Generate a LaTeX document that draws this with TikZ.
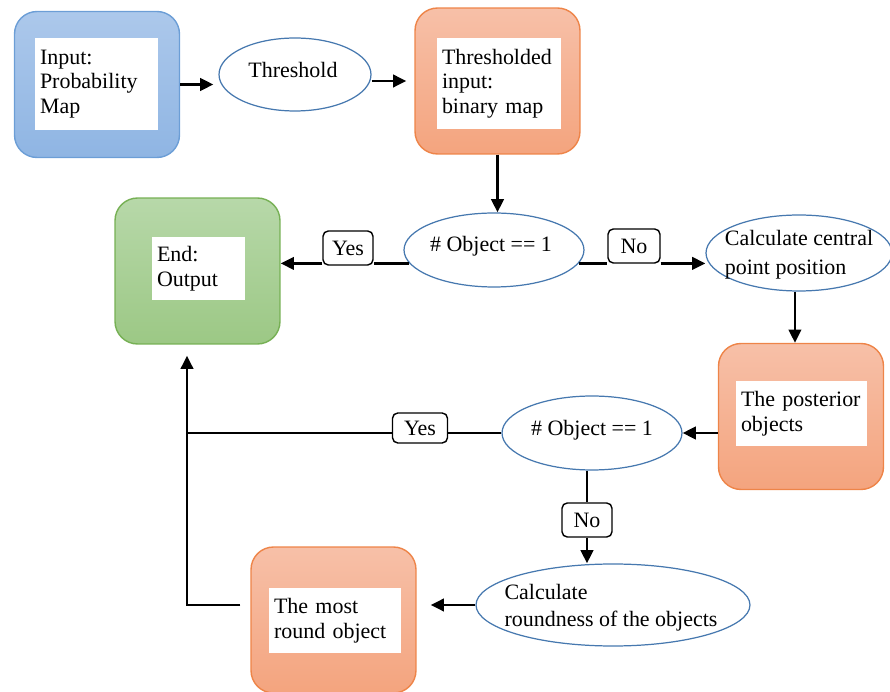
\documentclass[tikz,border=0pt]{standalone}
\usepackage{fontspec}
\setmainfont{Liberation Serif}
\usepackage{xcolor}
\definecolor{blueTop}{RGB}{172,200,235}
\definecolor{blueBot}{RGB}{143,181,227}
\definecolor{blueLine}{RGB}{108,158,214}
\definecolor{orangeTop}{RGB}{247,192,168}
\definecolor{orangeBot}{RGB}{244,164,126}
\definecolor{orangeLine}{RGB}{238,132,72}
\definecolor{greenTop}{RGB}{183,216,169}
\definecolor{greenBot}{RGB}{156,200,133}
\definecolor{greenLine}{RGB}{118,176,84}
\definecolor{ellLine}{RGB}{70,120,175}
\usepackage{tikz}
\usetikzlibrary{arrows.meta, positioning, shapes.geometric}

\begin{document}
\begin{tikzpicture}[
	x=0.02cm, y=-0.02cm,
	font=\fontsize{12.5}{14}\selectfont,
	>={Triangle[length=7.5pt, width=7pt]},
	flow/.style={line width=1.6pt},
	block/.style={rectangle, rounded corners=0.45cm, line width=0.8pt, minimum width=3.3cm, minimum height=2.92cm},
	blueblock/.style={block, draw=blueLine, top color=blueTop, bottom color=blueBot},
	orangeblock/.style={block, draw=orangeLine, top color=orangeTop, bottom color=orangeBot},
	greenblock/.style={block, draw=greenLine, top color=greenTop, bottom color=greenBot},
	textarea/.style={rectangle, fill=white, inner xsep=0.1cm, inner ysep=0pt, align=left},
	decision/.style={ellipse, draw=ellLine, line width=0.7pt, fill=white, inner sep=0pt},
	wordtext/.style={align=left, inner sep=0pt, font=\fontsize{12.5}{15.5}\selectfont},
	answer/.style={rectangle, draw, fill=white, rounded corners=3pt, line width=0.8pt, minimum width=1cm, minimum height=0.68cm, inner sep=0pt}
]

\def \xw{890}
\def \xh{692}
\useasboundingbox (0,0) rectangle (\xw,\xh);

% top row
\node[blueblock] (input) at (97, 84.5) {};
\node[textarea, text width=2.26cm, minimum height=1.84cm] (inputtxt) at (96.5, 84) {Input:\\Probability\\Map};
\node[decision, minimum width=3.04cm, minimum height=1.46cm] (thresh) at (295, 74.5) {};
\node[wordtext] (threshtxt) at (293, 70) {Threshold};
\node[orangeblock] (thr) at (497.5, 81) {};
\node[textarea, text width=2.28cm, minimum height=1.82cm] (thrtxt) at (499, 83.5) {Thresholded\\input:\\binary map};

% middle row
\node[decision, minimum width=3.6cm, minimum height=1.48cm] (obj1) at (494, 250) {};
\node[wordtext] (obj1txt) at (491, 246) {\# Object == 1};
\node[greenblock] (end) at (197.5, 271) {};
\node[textarea, text width=1.66cm, minimum height=1.26cm] (endtxt) at (198.5, 268.5) {End:\\Output};
\node[answer] (yes1) at (348, 248) {Yes};
\node[answer, minimum width=1.04cm] (no1) at (634, 246) {No};
\node[decision, minimum width=3.72cm, minimum height=1.52cm] (central) at (799, 253) {};
\node[wordtext, font=\fontsize{12.5}{16.5}\selectfont] (centraltxt) at (799, 255) {Calculate central\\point position};

% right column and bottom
\node[orangeblock] (post) at (801, 416.5) {};
\node[textarea, text width=2.42cm, minimum height=1.3cm] (posttxt) at (801.5, 413.5) {The posterior\\objects};
\node[decision, minimum width=3.6cm, minimum height=1.48cm] (obj2) at (592, 433) {};
\node[wordtext] (obj2txt) at (592, 430) {\# Object == 1};
\node[answer, minimum width=1.1cm, minimum height=0.6cm] (yes2) at (420, 428) {Yes};
\node[answer] (no2) at (587, 520) {No};
\node[decision, minimum width=5.48cm, minimum height=1.64cm] (round) at (613, 605) {};
\node[wordtext] (roundtxt) at (611, 608) {Calculate\\roundness of the objects};
\node[orangeblock] (most) at (333.5, 620) {};
\node[textarea, text width=2.44cm, minimum height=1.3cm] (mosttxt) at (335, 620.5) {The most\\round object};

\coordinate (turn) at (187, 605); % corner of the way back

% connectors
\draw[flow, ->, shorten >=0.1cm] (input.east) -- (input.east -| thresh.west);
\draw[flow, ->, shorten >=0.16cm] (thresh.east |- thr.west) -- (thr.west);
\draw[flow, ->] (thr.south) -- (thr.south |- obj1.north);
\draw[flow] (obj1.189) -- (obj1.189 -| yes1.east);
\draw[flow, ->] (yes1.west |- obj1.189) -- (obj1.189 -| end.east); % yes
\draw[flow] (obj1.-9) -- (obj1.-9 -| no1.west);
\draw[flow, ->] (no1.east |- obj1.-9) -- (obj1.-9 -| central.west); % no
\draw[flow, ->] (central.264) -- (central.264 |- post.north);
\draw[flow, ->] (post.west |- obj2.east) -- (obj2.east);
\draw[flow] (obj2.west) -- (obj2.west -| yes2.east);
\draw[flow] (yes2.west |- obj2.west) -- (obj2.west -| turn); % yes
\draw[flow] (no2 |- obj2.south) -- (no2.north);
\draw[flow, ->] (no2.south) -- (no2 |- round.north); % no
\draw[flow, ->, shorten >=0.28cm] (round.west) -- (round.west -| most.east);
\draw[flow, ->, shorten <=0.2cm, shorten >=0.22cm] (turn -| most.west) -- (turn) -- (turn |- end.south);

\end{tikzpicture}
\end{document}
